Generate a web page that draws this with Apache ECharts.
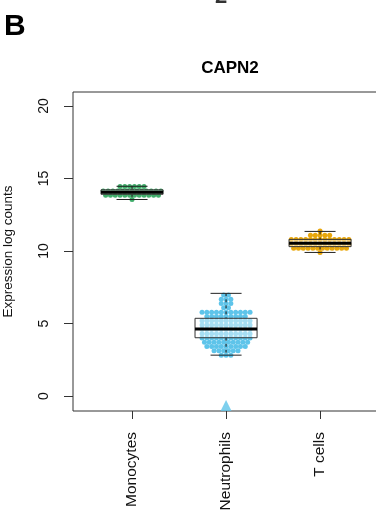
<!DOCTYPE html>
<html>
<head>
<meta charset="utf-8">
<script src="https://cdn.jsdelivr.net/npm/echarts@6/dist/echarts.min.js"></script>
<style>
  html, body { margin: 0; padding: 0; background: #fff; }
  #main { width: 376px; height: 510px; }
</style>
</head>
<body>
<div id="main"></div>
<script>
var categories = ['Monocytes', 'Neutrophils', 'T cells'];

// expression values, one per cell
var monocytes = [
  13.55,
  13.72, 13.75, 13.78, 13.81, 13.84, 13.87, 13.90, 13.92, 13.94, 13.96, 13.97, 13.99,
  14.00, 14.02, 14.04, 14.06, 14.08, 14.10, 14.12, 14.14, 14.16, 14.18, 14.20, 14.23, 14.26,
  14.31, 14.34, 14.37, 14.40, 14.43, 14.46
];
var neutrophils = [
  2.82, 2.88, 2.93,
  3.00, 3.05, 3.10, 3.15, 3.19, 3.24,
  3.29, 3.32, 3.36, 3.40, 3.43, 3.46, 3.49, 3.52, 3.55,
  3.58, 3.61, 3.64, 3.67, 3.70, 3.72, 3.75, 3.78, 3.81, 3.85,
  4.02, 4.04, 4.05, 4.06, 4.08, 4.09, 4.10, 4.11, 4.12, 4.13, 4.14,
  4.17, 4.20, 4.23, 4.26, 4.29, 4.31, 4.34, 4.37, 4.40, 4.42, 4.44,
  4.46, 4.49, 4.52, 4.55, 4.58, 4.61, 4.63, 4.66, 4.69, 4.71, 4.74,
  4.76, 4.79, 4.81, 4.84, 4.87, 4.90, 4.93, 4.96, 4.98, 5.01, 5.03,
  5.06, 5.09, 5.12, 5.15, 5.18, 5.21, 5.24, 5.27, 5.29, 5.31, 5.33,
  5.34, 5.36, 5.40, 5.44, 5.48, 5.52, 5.56, 5.59, 5.62,
  5.64, 5.67, 5.70, 5.73, 5.76, 5.79, 5.82, 5.85, 5.88, 5.90, 5.91,
  6.00, 6.15,
  6.30, 6.38, 6.47,
  6.58, 6.66, 6.75,
  6.92, 7.08
];
var tcells = [
  9.90,
  10.06, 10.09, 10.12, 10.14, 10.17, 10.19, 10.22, 10.24, 10.26, 10.28, 10.30, 10.33,
  10.36, 10.38, 10.40, 10.42, 10.44, 10.46, 10.48, 10.50, 10.52, 10.54, 10.57, 10.60, 10.62,
  10.66, 10.68, 10.70, 10.72, 10.74, 10.76, 10.78, 10.80, 10.83, 10.86, 10.88, 10.91, 10.93,
  10.98, 11.04, 11.10, 11.15, 11.20,
  11.35
];
// neutrophil cell below the plotted range, drawn as a triangle
var neutrophilsLow = [-0.65];

var yTicks = [0, 5, 10, 15, 20];
var xTicks = [1, 2, 3];
var colors = ['#41ad6b', '#5ec4ea', '#e9a70c'];

var groups = [monocytes, neutrophils, tcells];
var font = 'Liberation Sans, Arial, Helvetica, sans-serif';

var gridL = 73, gridT = 92, gridW = 314, gridH = 319;
var xMin = 0.372, xMax = 3.712, yMin = -1.03, yMax = 20.96;
var dotSize = 5;
var dotStep = 4.8;   // horizontal spacing inside a row, px
var rowStep = 4.3;   // row height, px
var boxWidth = 0.66;

// R boxplot.stats: tukey hinges + 1.5 IQR whiskers
function boxStats(vals) {
  var s = vals.slice().sort(function (a, b) { return a - b; });
  var n = s.length;
  var n4 = Math.floor((n + 3) / 2) / 2;
  var d = [1, n4, (n + 1) / 2, n + 1 - n4, n];
  var f = d.map(function (p) {
    return 0.5 * (s[Math.floor(p) - 1] + s[Math.ceil(p) - 1]);
  });
  var iqr = f[3] - f[1];
  var inside = s.filter(function (v) { return v >= f[1] - 1.5 * iqr && v <= f[3] + 1.5 * iqr; });
  return [inside[0], f[1], f[2], f[3], inside[inside.length - 1]];
}

// beeswarm "center" layout: bin values into rows, centre each row
function beeswarm(vals, g, pxPerY, xPerPx) {
  var r = rowStep / pxPerY;
  var base = Math.min.apply(null, vals);
  var rows = {};
  vals.forEach(function (v) {
    var k = Math.round((v - base) / r);
    (rows[k] = rows[k] || []).push(v);
  });
  var pts = [];
  Object.keys(rows).forEach(function (k) {
    var n = rows[k].length;
    for (var i = 0; i < n; i++) {
      pts.push([g + (i - (n - 1) / 2) * dotStep * xPerPx, base + k * r]);
    }
  });
  return pts;
}

var pxPerY = gridH / (yMax - yMin);
var xPerPx = (xMax - xMin) / gridW;

var series = [];
groups.forEach(function (vals, g) {
  series.push({
    type: 'scatter',
    name: categories[g],
    symbolSize: dotSize,
    z: 2,
    silent: true,
    itemStyle: { color: colors[g], opacity: 1 },
    data: beeswarm(vals, g + 1, pxPerY, xPerPx)
  });
});

series.push({
  type: 'scatter',
  symbol: 'triangle',
  symbolSize: 11,
  z: 2,
  silent: true,
  itemStyle: { color: colors[1] },
  data: neutrophilsLow.map(function (v) { return [2, v]; })
});

series.push({
  type: 'custom',
  z: 5,
  silent: true,
  data: groups.map(function (vals, g) { return [g + 1].concat(boxStats(vals)); }),
  renderItem: function (params, api) {
    var x = api.value(0);
    var half = api.size([boxWidth, 0])[0] / 2;
    var cap = half / 2;
    var cx = api.coord([x, 0])[0];
    var yLo = api.coord([x, api.value(1)])[1];
    var yQ1 = api.coord([x, api.value(2)])[1];
    var yMed = api.coord([x, api.value(3)])[1];
    var yQ3 = api.coord([x, api.value(4)])[1];
    var yHi = api.coord([x, api.value(5)])[1];
    var thin = { stroke: '#222', lineWidth: 1 };
    return {
      type: 'group',
      children: [
        { type: 'line', shape: { x1: cx, y1: yHi, x2: cx, y2: yQ3 }, style: { stroke: '#111', lineWidth: 1, lineDash: [3, 3] } },
        { type: 'line', shape: { x1: cx, y1: yQ1, x2: cx, y2: yLo }, style: { stroke: '#111', lineWidth: 1, lineDash: [3, 3] } },
        { type: 'line', shape: { x1: cx - cap, y1: yHi, x2: cx + cap, y2: yHi }, style: thin },
        { type: 'line', shape: { x1: cx - cap, y1: yLo, x2: cx + cap, y2: yLo }, style: thin },
        { type: 'rect', shape: { x: cx - half, y: yQ3, width: half * 2, height: yQ1 - yQ3 },
          style: { fill: 'rgba(255,255,255,0.45)', stroke: '#333', lineWidth: 1 } },
        { type: 'line', shape: { x1: cx - half, y1: yMed, x2: cx + half, y2: yMed }, style: { stroke: '#000', lineWidth: 3 } }
      ]
    };
  }
});

var chart = echarts.init(document.getElementById('main'), null, { renderer: 'canvas' });

var option = {
  backgroundColor: '#fff',
  animation: false,
  graphic: [{
    // tail of the panel above, cut by the crop
    type: 'text',
    x: 221,
    y: 8,
    style: { text: '2', font: 'bold 22px ' + font, fill: '#333', align: 'center', verticalAlign: 'bottom' }
  }, {
    type: 'text',
    left: 4,
    top: 12,
    style: { text: 'B', font: 'bold 30px ' + font, fill: '#000' }
  }, {
    type: 'text',
    x: 230,
    y: 68,
    style: { text: 'CAPN2', font: 'bold 17px ' + font, fill: '#000', align: 'center', verticalAlign: 'middle' }
  }],
  grid: {
    left: gridL, top: gridT, width: gridW, height: gridH,
    outerBoundsMode: 'none',
    containLabel: false,
    show: true, borderColor: '#333', borderWidth: 1, backgroundColor: 'transparent'
  },
  xAxis: {
    type: 'value',
    min: xMin,
    max: xMax,
    axisLine: { show: false, onZero: false },
    splitLine: { show: false },
    axisTick: { show: true, length: 8, customValues: xTicks, lineStyle: { color: '#333' } },
    axisLabel: {
      customValues: xTicks,
      rotate: 90,
      margin: 21,
      fontFamily: font,
      fontSize: 15.5,
      color: '#111',
      formatter: function (v) { return categories[Math.round(v) - 1]; }
    }
  },
  yAxis: {
    type: 'value',
    min: yMin,
    max: yMax,
    name: 'Expression log counts',
    nameLocation: 'middle',
    nameRotate: 90,
    nameGap: 58,
    nameTextStyle: { fontFamily: font, fontSize: 13.5, color: '#111' },
    axisLine: { show: false, onZero: false },
    splitLine: { show: false },
    axisTick: { show: true, length: 9, customValues: yTicks, lineStyle: { color: '#333' } },
    axisLabel: {
      customValues: yTicks,
      rotate: 90,
      margin: 22,
      fontFamily: font,
      fontSize: 14,
      color: '#111'
    }
  },
  series: series
};

chart.setOption(option);
</script>
</body>
</html>
